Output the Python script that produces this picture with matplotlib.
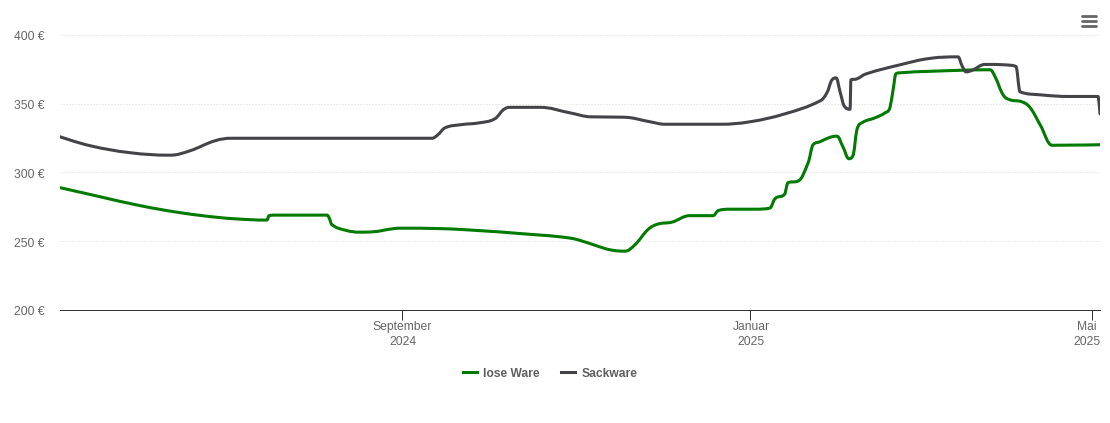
import matplotlib
matplotlib.use("Agg")
import matplotlib.pyplot as plt
from matplotlib.lines import Line2D
from matplotlib.path import Path
from matplotlib.patches import PathPatch
from matplotlib.transforms import ScaledTranslation
import numpy as np

plt.rcParams['font.family'] = ['Liberation Sans', 'DejaVu Sans']

# days since 2024-05-04, euro
lose_days = [0, 14, 28.1, 42.1, 56.1, 66.7, 72.6, 73.3, 75.4, 93.7, 94.4, 95.4, 100, 105.3, 110.5, 115.8, 119.3,
             133.3, 147.4, 161.4, 178.9, 186, 191.2, 194.7, 198.2, 201.8, 206.3, 209.8, 214.7, 221, 229.1, 230.9,
             235.1, 243.9, 249.1, 250.9, 254.4, 255.4, 258.9, 262.5, 264.2, 266.7, 270.2, 272.6, 274.7, 276.8,
             278.2, 279.6, 281.4, 286, 289.5, 291.2, 292.3, 293.3, 294.7, 305.3, 326.3, 328.1, 330.9, 333.3,
             337.5, 340.4, 343.9, 348.1, 364.9]
lose_price = [289, 282.4, 275.9, 270.8, 267.2, 265.7, 265.4, 268.6, 269, 269, 267.2, 262.1, 258.1, 256.6, 257, 258.8,
              259.5, 259.2, 257.7, 255.6, 252.3, 248.3, 244.7, 243.2, 242.8, 247.6, 258.5, 262.5, 263.9, 268.6, 268.6,
              272.3, 273.3, 273.3, 274.1, 281, 284.6, 292.6, 293.7, 307.1, 320.2, 322.4, 325.6, 326.4, 318.7, 310,
              312.2, 331.1, 336.2, 339.8, 343.4, 347.1, 360.1, 371.8, 372.5, 373.6, 374.7, 369.6, 356.5, 352.9,
              351.4, 347.1, 334.7, 319.8, 320.2]

sack_days = [0, 10.5, 24.6, 38.6, 45.6, 54.4, 60.4, 130.5, 132.6, 135.1, 140.4, 147.4, 152.6, 156.1, 157.9, 168.4,
             178.9, 186, 198.2, 207, 212.3, 231.6, 242.1, 254.4, 266.7, 269.1, 270.9, 272.3, 273.7, 275.1, 277.2,
             277.5, 279.6, 282.8, 294.7, 305.3, 315.1, 316.5, 317.9, 320, 324.6, 331.6, 335.4, 336.8, 343.9, 354.4,
             364.2, 364.9]
sack_price = [326, 319.5, 314.4, 312.6, 315.8, 323.1, 324.9, 324.9, 327.5, 332.5, 334.7, 336.2, 339.1, 346.3, 347.4,
              347.4, 343.4, 340.5, 340.2, 336.9, 335.1, 335.1, 336.9, 342.7, 352.1, 358, 367.4, 368.8, 358.7, 348.5,
              346, 367.4, 368.1, 371.7, 378.3, 383, 384.1, 377.6, 373.2, 374.3, 378.6, 378.3, 377.2, 358.7, 356.5,
              355.3, 355.3, 342.7]

y_ticks = [200, 250, 300, 350, 400]
x_ticks = [120, 242, 362]
x_labels = ["September\n2024", "Januar\n2025", "Mai\n2025"]

GREEN = "#007a00"
GREY = "#434348"
TEXT = "#666666"


def spline_path(xs, ys, smooth=1.5):
    # same idea as a highcharts spline, control points from the neighbours
    xs = np.array(xs, float)
    ys = np.array(ys, float)
    verts = [(xs[0], ys[0])]
    codes = [Path.MOVETO]
    out = (xs[0], ys[0])
    for i in range(1, len(xs)):
        if i < len(xs) - 1:
            d = smooth + 1
            lx = (smooth * xs[i] + xs[i - 1]) / d
            ly = (smooth * ys[i] + ys[i - 1]) / d
            rx = (smooth * xs[i] + xs[i + 1]) / d
            ry = (smooth * ys[i] + ys[i + 1]) / d
            if rx != lx:
                slope = (ry - ly) / (rx - lx)
                ly = slope * (lx - xs[i]) + ys[i]
                ry = slope * (rx - xs[i]) + ys[i]
            # no overshoot past the neighbours
            hi = max(ys[i - 1], ys[i])
            lo = min(ys[i - 1], ys[i])
            if ly > hi:
                ly = hi
                ry = 2 * ys[i] - ly
            elif ly < lo:
                ly = lo
                ry = 2 * ys[i] - ly
            hi = max(ys[i + 1], ys[i])
            lo = min(ys[i + 1], ys[i])
            if ry > hi:
                ry = hi
                ly = 2 * ys[i] - ry
            elif ry < lo:
                ry = lo
                ly = 2 * ys[i] - ry
        else:
            lx, ly = xs[i], ys[i]
            rx, ry = xs[i], ys[i]
        verts += [out, (lx, ly), (xs[i], ys[i])]
        codes += [Path.CURVE4] * 3
        out = (rx, ry)
    return Path(verts, codes)


fig = plt.figure(figsize=(11.1, 4.23), dpi=100)
ax = fig.add_axes([60 / 1110, 1 - 310 / 423, 1040 / 1110, 275 / 423])

ax.add_patch(PathPatch(spline_path(lose_days, lose_price), fill=False, edgecolor=GREEN, lw=2.2,
                       capstyle='round', joinstyle='round', zorder=3))
ax.add_patch(PathPatch(spline_path(sack_days, sack_price), fill=False, edgecolor=GREY, lw=2.2,
                       capstyle='round', joinstyle='round', zorder=4))

ax.set_xlim(0, 364.9)
ax.set_ylim(200, 400)

ax.set_yticks(y_ticks)
ax.set_yticklabels([f"{v} €" for v in y_ticks])
ax.set_xticks(x_ticks)
ax.set_xticklabels(x_labels, linespacing=1.3)
ax.tick_params(axis='y', length=0, pad=10.8, labelsize=8.7, labelcolor=TEXT)
ax.tick_params(axis='x', length=7.2, width=0.72, color="#333333", pad=1.0, labelsize=8.7, labelcolor=TEXT)

ax.grid(axis='y', color="#dcdcdc", lw=0.72, ls=(0, (1, 2)))
ax.set_axisbelow(True)
for s in ['top', 'left', 'right']:
    ax.spines[s].set_visible(False)
ax.spines['bottom'].set_color("#333333")
ax.spines['bottom'].set_linewidth(0.72)

# nudge labels by a pixel or so, last one stays inside the plot
x_tick_text = ax.get_xticklabels()
for lab, dx in zip(x_tick_text, [0.5, 1.5, -5]):
    lab.set_transform(lab.get_transform() + ScaledTranslation(dx / 100, 0, fig.dpi_scale_trans))
for lab in ax.get_yticklabels():
    lab.set_transform(lab.get_transform() + ScaledTranslation(0, -0.8 / 100, fig.dpi_scale_trans))

handles = [Line2D([], [], color=GREEN, lw=2.2), Line2D([], [], color=GREY, lw=2.2)]
fig.legend(handles, ["lose Ware", "Sackware"], loc='center', bbox_to_anchor=(550 / 1110, 1 - 373.5 / 423),
           ncol=2, frameon=False, handlelength=1.15, handletextpad=0.55, columnspacing=1.75,
           labelcolor="#5f5f5f", prop={'weight': 'bold', 'size': 8.64})

# menu icon
for py in [16, 21, 26]:
    fig.add_artist(Line2D([1082 / 1110, 1096 / 1110], [1 - py / 423, 1 - py / 423], color=TEXT, lw=2.0,
                          solid_capstyle='round'))

fig.savefig("out.png", dpi=100)
